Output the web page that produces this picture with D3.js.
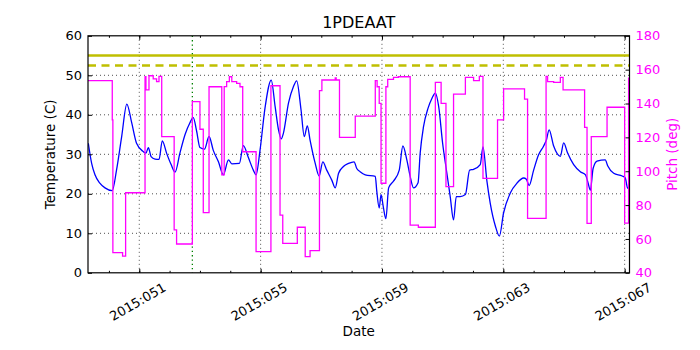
<!DOCTYPE html>
<html>
<head>
<meta charset="utf-8">
<script src="https://cdn.jsdelivr.net/npm/d3@7"></script>
<style>
    body { margin: 0; background: #fff; }
    text { font-family: "DejaVu Sans", sans-serif; }
</style>
</head>
<body>
<div id="chart"></div>
<script>

// temperature track (day of 2015, deg C)
var tempDays = [49.32, 49.43, 49.54, 49.70, 49.87, 50.11, 50.25, 50.42, 50.59, 50.75, 50.91,
    51.13, 51.22, 51.30, 51.39, 51.52, 51.65, 51.76, 51.90, 52.05, 52.18, 52.34, 52.51, 52.67,
    52.78, 52.89, 53.00, 53.15, 53.30, 53.44, 53.61, 53.77, 53.94, 54.05, 54.30, 54.43, 54.60,
    54.76, 54.85, 54.98, 55.15, 55.35, 55.48, 55.59, 55.68, 55.75, 55.92, 56.08, 56.19, 56.33,
    56.44, 56.54, 56.63, 56.80, 56.93, 57.05, 57.18, 57.35, 57.46, 57.57, 57.73, 57.90, 58.08,
    58.17, 58.28, 58.45, 58.78, 58.83, 58.91, 58.97, 59.04, 59.13, 59.22, 59.38, 59.57, 59.69,
    59.82, 59.93, 60.04, 60.19, 60.26, 60.37, 60.52, 60.65, 60.76, 60.87, 61.00, 61.14, 61.25,
    61.36, 61.45, 61.58, 61.75, 61.89, 62.02, 62.24, 62.33, 62.46, 62.57, 62.74, 62.87, 63.01,
    63.23, 63.45, 63.67, 63.76, 63.85, 64.00, 64.16, 64.33, 64.42, 64.51, 64.66, 64.88, 64.99,
    65.12, 65.32, 65.54, 65.71, 65.79, 65.87, 65.96, 66.09, 66.36, 66.44, 66.64, 66.92, 67.02,
    67.10, 67.16];
var tempValues = [32.8, 27.7, 24.8, 22.7, 21.5, 20.8, 26.0, 34.5, 42.7, 38.0, 32.8,
    30.7, 30.3, 31.7, 29.4, 28.8, 28.7, 33.4, 30.3, 27.4, 25.5, 30.3, 35.0, 38.0,
    39.3, 35.9, 31.7, 31.3, 34.5, 31.0, 28.1, 24.8, 28.6, 27.6, 27.7, 32.2, 29.1,
    26.0, 24.8, 31.0, 42.0, 48.8, 42.0, 36.2, 33.9, 35.3, 43.0, 47.1, 48.6, 41.4,
    34.5, 37.2, 33.6, 27.7, 24.5, 28.1, 26.0, 23.4, 21.5, 25.2, 26.9, 27.7, 28.1,
    26.4, 25.6, 24.8, 24.4, 20.6, 16.4, 19.8, 16.9, 13.7, 21.5, 23.2, 26.0, 32.1,
    28.6, 24.4, 21.5, 22.8, 30.3, 37.0, 41.7, 44.2, 45.5, 42.1, 32.8, 25.2, 19.3,
    13.4, 19.3, 19.3, 19.8, 26.0, 26.2, 27.4, 31.9, 23.2, 17.6, 11.8, 9.3, 15.2,
    20.2, 22.7, 24.0, 23.7, 22.1, 26.0, 29.8, 32.1, 33.6, 36.2, 32.1, 29.5, 32.9,
    30.3, 27.4, 25.6, 24.8, 22.9, 20.9, 26.4, 28.3, 28.6, 27.1, 25.2, 24.5, 24.0,
    21.4, 22.5];

// pitch steps (day of 2015, deg), each value holds until the next day
var pitchDays = [49.31, 50.11, 50.13, 50.45, 50.55, 51.19, 51.22, 51.32, 51.46, 51.57, 51.65,
    51.74, 52.15, 52.23, 52.75, 53.00, 53.11, 53.30, 53.72, 53.80, 53.88, 53.97, 54.05, 54.21,
    54.32, 54.41, 54.85, 55.34, 55.64, 55.73, 56.21, 56.47, 56.63, 56.94, 57.02, 57.46, 57.49,
    57.60, 58.12, 58.78, 58.84, 58.91, 58.97, 59.13, 59.19, 59.38, 59.54, 59.93, 60.20, 60.76,
    60.95, 61.11, 61.36, 61.75, 62.02, 62.21, 62.33, 62.81, 63.01, 63.70, 63.80, 64.41, 64.46,
    64.66, 64.88, 64.97, 65.68, 65.76, 65.90, 66.42, 67.00, 67.13, 67.16];
var pitchValues = [153.5, 130.3, 51.9, 49.9, 87.3, 155.8, 148.0, 156.4, 154.5, 152.9, 156.0,
    120.4, 65.3, 57.0, 141.1, 124.8, 75.5, 149.9, 97.8, 150.0, 152.9, 155.8, 152.9, 151.9,
    149.9, 111.5, 52.5, 150.5, 74.1, 57.4, 66.9, 49.5, 53.1, 147.6, 153.9, 155.2, 153.9,
    120.0, 132.6, 153.5, 149.9, 140.1, 92.9, 149.9, 154.3, 155.5, 155.8, 68.2, 66.9, 152.5,
    140.1, 90.9, 145.6, 155.5, 153.5, 156.0, 95.8, 130.3, 148.6, 142.6, 72.2, 156.0, 152.9,
    152.5, 155.5, 148.0, 125.9, 69.2, 120.4, 137.8, 69.4, 155.0, 155.0];

var xDomain = [49.31, 67.16];
var xTickDays = [51, 55, 59, 63, 67];
var xTickLabels = ["2015:051", "2015:055", "2015:059", "2015:063", "2015:067"];
var xMinorDays = d3.range(50, 68);
var tempTicks = [0, 10, 20, 30, 40, 50, 60];
var pitchTicks = [40, 60, 80, 100, 120, 140, 160, 180];
var limitSolid = 55;
var limitDashed = 52.5;
var markerDay = 52.75;

var width = 700, height = 350;
var margin = {top: 35.8, right: 70.5, bottom: 77.2, left: 88};
var plotW = width - margin.left - margin.right;
var plotH = height - margin.top - margin.bottom;
var magenta = "#ff00ff";

var svg = d3.select("#chart").append("svg")
    .attr("width", width)
    .attr("height", height);

var g = svg.append("g")
    .attr("transform", "translate(" + margin.left + "," + margin.top + ")");

var x = d3.scaleLinear().domain(xDomain).range([0, plotW]);
var yT = d3.scaleLinear().domain([0, 60]).range([plotH, 0]);
var yP = d3.scaleLinear().domain([40, 180]).range([plotH, 0]);

g.append("clipPath").attr("id", "plotclip")
    .append("rect").attr("width", plotW).attr("height", plotH);

//dotted grid
g.selectAll(".vgrid").data(xTickDays).enter().append("line")
    .attr("x1", function(d){ return x(d); })
    .attr("x2", function(d){ return x(d); })
    .attr("y1", 0).attr("y2", plotH)
    .attr("stroke", "#222").attr("stroke-width", 0.8)
    .attr("stroke-dasharray", "1,3");

g.selectAll(".hgrid").data(tempTicks.slice(1, -1)).enter().append("line")
    .attr("x1", 0).attr("x2", plotW)
    .attr("y1", function(d){ return yT(d); })
    .attr("y2", function(d){ return yT(d); })
    .attr("stroke", "#222").attr("stroke-width", 0.8)
    .attr("stroke-dasharray", "1,3");

var plot = g.append("g").attr("clip-path", "url(#plotclip)");

//limit lines
plot.append("line")
    .attr("x1", 0).attr("x2", plotW)
    .attr("y1", yT(limitSolid)).attr("y2", yT(limitSolid))
    .attr("stroke", "#bfbf00").attr("stroke-width", 2.5);

plot.append("line")
    .attr("x1", 0).attr("x2", plotW)
    .attr("y1", yT(limitDashed)).attr("y2", yT(limitDashed))
    .attr("stroke", "#bfbf00").attr("stroke-width", 2.5)
    .attr("stroke-dasharray", "8,5.5");

plot.append("line")
    .attr("x1", x(markerDay)).attr("x2", x(markerDay))
    .attr("y1", 0).attr("y2", plotH)
    .attr("stroke", "#008000").attr("stroke-width", 1.3)
    .attr("stroke-dasharray", "1.3,3");

var tempLine = d3.line()
    .x(function(d){ return x(d[0]); })
    .y(function(d){ return yT(d[1]); })
    .curve(d3.curveMonotoneX);

plot.append("path")
    .datum(d3.zip(tempDays, tempValues))
    .attr("d", tempLine)
    .attr("fill", "none")
    .attr("stroke", "#0000ff")
    .attr("stroke-width", 1.3);

var pitchLine = d3.line()
    .x(function(d){ return x(d[0]); })
    .y(function(d){ return yP(d[1]); })
    .curve(d3.curveStepAfter);

plot.append("path")
    .datum(d3.zip(pitchDays, pitchValues))
    .attr("d", pitchLine)
    .attr("fill", "none")
    .attr("stroke", magenta)
    .attr("stroke-width", 1.3);

//axes
var fontSize = "13px";

var leftAxis = g.append("g")
    .call(d3.axisLeft(yT).tickValues(tempTicks).tickSizeInner(-4).tickSizeOuter(0).tickPadding(6));
leftAxis.selectAll("text").style("font-size", fontSize).attr("fill", "#000");

var rightAxis = g.append("g")
    .attr("transform", "translate(" + plotW + ",0)")
    .call(d3.axisRight(yP).tickValues(pitchTicks).tickSizeInner(-4).tickSizeOuter(0).tickPadding(6));
rightAxis.selectAll("text").style("font-size", fontSize).attr("fill", magenta);

var bottomAxis = g.append("g")
    .attr("transform", "translate(0," + plotH + ")")
    .call(d3.axisBottom(x).tickValues(xTickDays).tickSizeInner(-4).tickSizeOuter(0)
        .tickFormat(function(d, i){ return xTickLabels[i]; }));
bottomAxis.selectAll("text")
    .style("font-size", fontSize)
    .attr("fill", "#000")
    .attr("y", 0)
    .attr("dy", "0.35em")
    .attr("text-anchor", "middle")
    .attr("transform", "translate(-2,29) rotate(-30)");

g.append("g")
    .attr("transform", "translate(0," + plotH + ")")
    .call(d3.axisBottom(x).tickValues(xMinorDays).tickSizeInner(-2).tickSizeOuter(0).tickFormat(""));

g.append("g")
    .call(d3.axisTop(x).tickValues(xTickDays).tickSizeInner(-4).tickSizeOuter(0).tickFormat(""));
g.append("g")
    .call(d3.axisTop(x).tickValues(xMinorDays).tickSizeInner(-2).tickSizeOuter(0).tickFormat(""));

g.selectAll(".domain").remove();
g.selectAll(".tick line").attr("stroke", "#000");

//frame
g.append("rect")
    .attr("width", plotW).attr("height", plotH)
    .attr("fill", "none").attr("stroke", "#000").attr("stroke-width", 1.2);

//titles
svg.append("text")
    .attr("x", margin.left + plotW / 2).attr("y", 28)
    .attr("text-anchor", "middle")
    .style("font-size", "16px")
    .text("1PDEAAT");

svg.append("text")
    .attr("x", margin.left + plotW / 2).attr("y", 336)
    .attr("text-anchor", "middle")
    .style("font-size", "13.5px")
    .text("Date");

svg.append("text")
    .attr("transform", "translate(55," + (margin.top + plotH / 2) + ") rotate(-90)")
    .attr("text-anchor", "middle")
    .style("font-size", "13.5px")
    .text("Temperature (C)");

svg.append("text")
    .attr("transform", "translate(677," + (margin.top + plotH / 2) + ") rotate(-90)")
    .attr("text-anchor", "middle")
    .attr("fill", magenta)
    .style("font-size", "13.5px")
    .text("Pitch (deg)");

</script>
</body>
</html>
